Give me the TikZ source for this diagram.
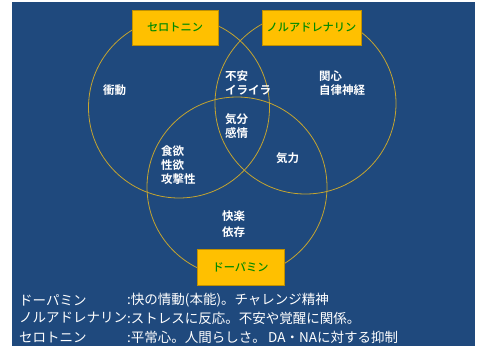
\documentclass[tikz,border=0pt]{standalone}
\usepackage{fontspec}
\setmainfont{Noto Sans CJK JP}
\newfontfamily\jpbold{Noto Sans CJK JP Bold}
\newfontfamily\jpmed{Noto Sans CJK JP Medium}
\definecolor{bgblue}{HTML}{1F497D}
\definecolor{ringgold}{RGB}{196,164,48}
\definecolor{boxgold}{HTML}{FFC000}
\definecolor{boxedge}{HTML}{C09000}
\definecolor{txtgreen}{HTML}{008A00}
\begin{document}
\begin{tikzpicture}[x=1pt,y=-1pt,
  ring/.style={draw=ringgold,line width=0.8pt},
  namebox/.style={fill=boxgold,draw=boxedge,line width=0.5pt,inner sep=0pt,
    text=txtgreen,font=\jpmed\fontsize{11.2}{13}\selectfont},
  lbl/.style={anchor=west,text=white,inner sep=0pt,align=left,
    font=\jpbold\fontsize{11.5}{14}\selectfont},
  legend/.style={anchor=west,text=white,inner sep=0pt,
    font=\fontsize{13.5}{15}\selectfont}]
\useasboundingbox (0,0) rectangle (478,346);
\fill[bgblue] (12,2) rectangle (475,346);
% circles
\draw[ring] (179,107.5) circle[radius=90.5];
\draw[ring] (305.5,103.5) circle[radius=90.5];
\draw[ring] (237,187) circle[radius=90];
% name boxes
\node[namebox,minimum width=86pt,minimum height=35pt] (sero) at (175,27.5) {セロトニン};
\node[namebox,minimum width=99pt,minimum height=35pt] (nora) at (311.5,27.5) {ノルアドレナリン};
\node[namebox,minimum width=87pt,minimum height=36pt] (dopa) at (240.5,267) {ドーパミン};
% region labels
\node[lbl] (shodo) at (103,90) {衝動};
\node[lbl] (fuan) at (225,83) {不安\\イライラ};
\node[lbl] (kanshin) at (319,83) {関心\\自律神経};
\node[lbl] (kibun) at (225,126) {気分\\感情};
\node[lbl] (shoku) at (161,165) {食欲\\性欲\\攻撃性};
\node[lbl] (kiryoku) at (276,158) {気力};
\node[lbl,font=\jpbold\fontsize{11.5}{16}\selectfont] (kairaku) at (222,224) {快楽\\依存};
% legend
\node[legend] (l1a) at (19,300) {ドーパミン};
\node[legend] (l1b) at (127,300) {:快の情動(本能)。チャレンジ精神};
\node[legend] (l2a) at (19,318) {ノルアドレナリン};
\node[legend] (l2b) at (127,318) {:ストレスに反応。不安や覚醒に関係。};
\node[legend] (l3a) at (19,337) {セロトニン};
\node[legend] (l3b) at (127,337) {:平常心。人間らしさ。\,DA・NAに対する抑制};
\end{tikzpicture}
\end{document}
